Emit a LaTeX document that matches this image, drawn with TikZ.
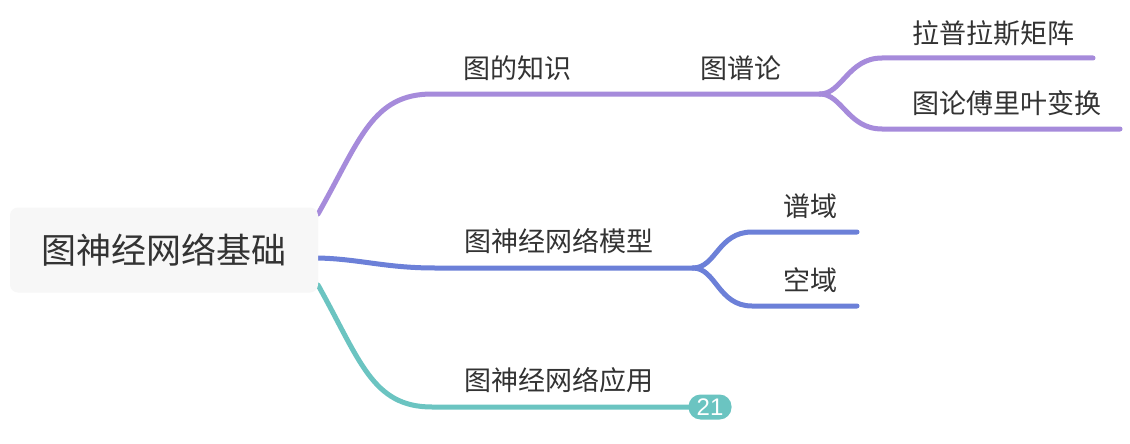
\documentclass[tikz,border=0pt]{standalone}
\usepackage{fontspec}
\setmainfont{Noto Sans CJK SC}
\setsansfont{Liberation Sans}
\begin{document}
\begin{tikzpicture}[x=1pt,y=-1pt,
  purp/.style={draw=cpurp,line width=5pt,line cap=round},
  blu/.style={draw=cblue,line width=5pt,line cap=round},
  tea/.style={draw=cteal,line width=5pt,line cap=round},
  lbl/.style={text=ctext,font=\fontsize{27}{30}\selectfont,inner sep=0pt},
  rootbox/.style={fill=croot,rounded corners=8pt,minimum width=308pt,minimum height=85pt,text=ctext,font=\fontsize{35}{40}\selectfont},
  badge/.style={fill=cteal,rounded corners=12pt,minimum width=43pt,minimum height=25pt,inner sep=0pt,text=white,font=\sffamily\fontsize{24}{26}\selectfont}]
\definecolor{cpurp}{HTML}{A68BDB}
\definecolor{cblue}{HTML}{6C80D8}
\definecolor{cteal}{HTML}{6BC4C1}
\definecolor{ctext}{HTML}{333333}
\definecolor{croot}{HTML}{F7F7F7}
\useasboundingbox[fill=white] (0,0) rectangle (1130,444);

% coordinates
\coordinate (pstart) at (318,214);
\coordinate (bstart) at (318,258);
\coordinate (tstart) at (318,285);
\coordinate (pj) at (820,94);
\coordinate (bj) at (693,268);
\coordinate (tend) at (700,407);
\coordinate (pu) at (1093,58);
\coordinate (pl) at (1120,129);
\coordinate (bu) at (857,232);
\coordinate (bl) at (857,306);

% main branches
\draw[purp] (pstart) .. controls (360,140) and (372,94) .. (432,94) -- (pj);
\draw[blu] (bstart) .. controls (360,259) and (385,268) .. (435,268) -- (bj);
\draw[tea] (tstart) .. controls (360,360) and (372,407) .. (432,407) -- (tend);
\node[badge] (n21) at (710,407) {21};

% sub branches
\draw[purp] (pj) .. controls (842,94) and (848,58) .. (882,58) -- (pu);
\draw[purp] (pj) .. controls (842,94) and (848,129) .. (882,129) -- (pl);
\draw[blu] (bj) .. controls (716,268) and (718,232) .. (752,232) -- (bu);
\draw[blu] (bj) .. controls (716,268) and (718,306) .. (752,306) -- (bl);

% root
\node[rootbox] (root) at (164,250) {图神经网络基础};

% labels
\node[lbl] (k1) at (517,68) {图的知识};
\node[lbl] (k2) at (741,68) {图谱论};
\node[lbl] (k3) at (993,33) {拉普拉斯矩阵};
\node[lbl] (k4) at (1007,103) {图论傅里叶变换};
\node[lbl] (m1) at (559,241) {图神经网络模型};
\node[lbl] (m2) at (810,206) {谱域};
\node[lbl] (m3) at (810,280) {空域};
\node[lbl] (a1) at (559,380) {图神经网络应用};
\end{tikzpicture}
\end{document}
